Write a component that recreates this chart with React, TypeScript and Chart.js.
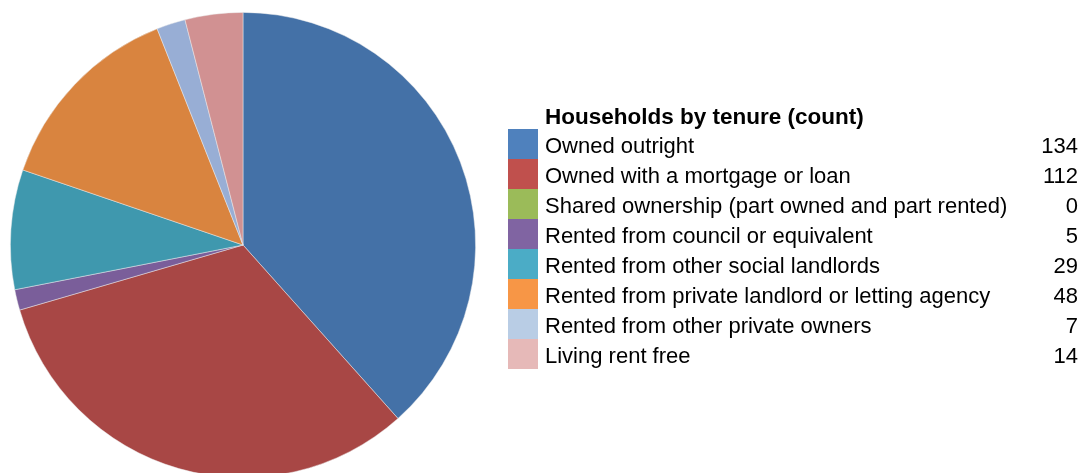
import React, { useEffect, useRef } from "react";
import { Chart, registerables } from "chart.js";

Chart.register(...registerables);

const legendTitle = "Households by tenure (count)";
const categories = [
  "Owned outright",
  "Owned with a mortgage or loan",
  "Shared ownership (part owned and part rented)",
  "Rented from council or equivalent",
  "Rented from other social landlords",
  "Rented from private landlord or letting agency",
  "Rented from other private owners",
  "Living rent free",
];
const counts = [134, 112, 0, 5, 29, 48, 7, 14];
const sliceColors = ["#4471a7", "#a84745", "#8aa650", "#7a5e9a", "#3f98ae", "#d9843f", "#98aed5", "#d19192"];
const legendColors = ["#4f81bd", "#c0504d", "#9bbb59", "#8064a2", "#4bacc6", "#f79646", "#b9cde5", "#e6b9b8"];

const legendPlugin = {
  id: "sideLegend",
  afterDraw(chart: any) {
    const ctx = chart.ctx;
    const labels: string[] = chart.data.labels;
    const data: number[] = chart.data.datasets[0].data;
    const boxX = 508;
    const boxW = 30;
    const rowH = 30;
    const top = 129;
    const textX = 545;
    const valX = 1078;
    ctx.save();
    ctx.textBaseline = "middle";
    ctx.fillStyle = "#000";
    ctx.font = "bold 22.5px 'Liberation Sans', Arial, sans-serif";
    ctx.textAlign = "left";
    ctx.fillText(legendTitle, textX, top - 11);
    ctx.font = "22px 'Liberation Sans', Arial, sans-serif";
    labels.forEach((lab, i) => {
      const y = top + i * rowH;
      ctx.fillStyle = legendColors[i];
      ctx.fillRect(boxX, y, boxW, rowH);
      ctx.fillStyle = "#000";
      ctx.textAlign = "left";
      ctx.fillText(lab, textX, y + rowH / 2 + 3);
      ctx.textAlign = "right";
      ctx.fillText(String(data[i]), valX, y + rowH / 2 + 3);
    });
    ctx.restore();
  },
};

export default function App() {
  const ref = useRef<HTMLCanvasElement>(null);
  useEffect(() => {
    if (!ref.current) return;
    const chart = new Chart(ref.current, {
      type: "pie",
      data: {
        labels: categories,
        datasets: [
          {
            data: counts,
            backgroundColor: sliceColors,
            borderColor: "rgba(235,235,235,0.6)",
            borderWidth: 0.8,
          },
        ],
      },
      options: {
        animation: false,
        responsive: false,
        events: [],
        layout: { padding: { left: 10, top: 12, right: 608, bottom: 12 } },
        plugins: { legend: { display: false }, tooltip: { enabled: false } },
      },
      plugins: [legendPlugin],
    });
    return () => chart.destroy();
  }, []);
  return (
    <div style={{ position: "fixed", left: 0, top: 0, width: 1084, height: 490, background: "#fff" }}>
      <canvas ref={ref} width={1084} height={490} style={{ width: 1084, height: 490 }} />
    </div>
  );
}
